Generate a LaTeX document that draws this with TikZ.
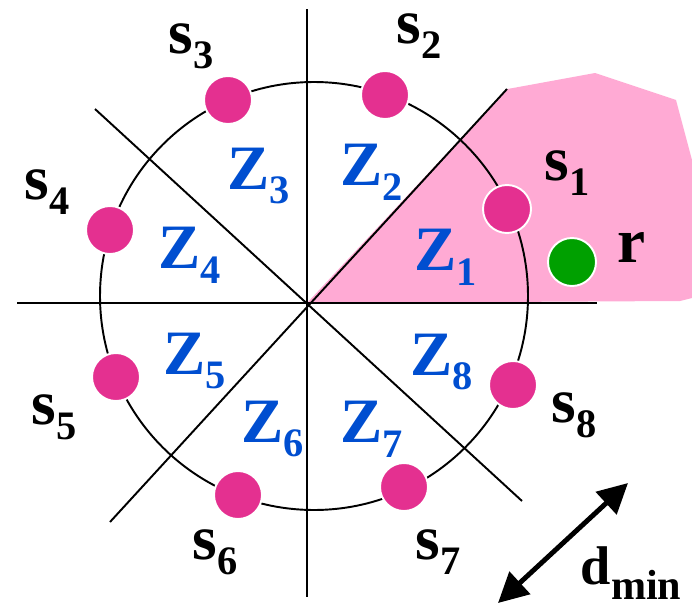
\documentclass[tikz,border=0pt]{standalone}
\usepackage{fontspec}
\setmainfont{Liberation Serif}
\usetikzlibrary{arrows.meta}

\definecolor{zonepink}{RGB}{255,170,212}
\definecolor{sigmag}{RGB}{228,48,144}
\definecolor{rxgreen}{RGB}{0,160,0}
\definecolor{zoneblue}{RGB}{0,78,208}

% symbol with a lowered index
\newcommand{\symb}[3]{#1\raisebox{-8.5pt}{\fontsize{#3}{#3}\selectfont #2}}

\begin{document}
\begin{tikzpicture}[
      x=0.02cm, y=-0.02cm,
      axis/.style={line width=1.1pt},
      sig/.style={circle, fill=sigmag, draw=white, line width=1.1pt,
        minimum size=0.96cm, inner sep=0pt},
      rx/.style={sig, fill=rxgreen},
      slbl/.style={inner sep=0pt, font=\fontsize{36}{36}\selectfont\bfseries},
      zlbl/.style={slbl, text=zoneblue},
      dist/.style={{Triangle[length=17pt,width=17pt]}-{Triangle[length=17pt,width=17pt]},
        line width=2.8pt}
    ]
    \useasboundingbox (0,0) rectangle (692,605);

    % --- decision region of s1 ---
    \coordinate (O) at (307,303);
    \fill[zonepink] (O) -- (507,89) -- (513,88) -- (595,73) -- (676,100)
      -- (692,160) -- (692,298) -- (680,301) -- cycle;

    % --- zone borders and circle ---
    \coordinate (hw) at (17,303);  \coordinate (he) at (597,303);
    \coordinate (vn) at (307,9);   \coordinate (vs) at (307,597);
    \coordinate (ne) at (507,89);  \coordinate (sw) at (110,522);
    \coordinate (nw) at (95,109);  \coordinate (se) at (522,501);
    \draw[axis] (hw) -- (he);
    \draw[axis] (vn) -- (vs);
    \draw[axis] (sw) -- (ne);
    \draw[axis] (nw) -- (se);
    \draw[axis] (314,296) circle[radius=214];

    % --- signal points ---
    \foreach \i/\x/\y in {1/507/209, 2/385/95, 3/228/100, 4/110/230,
                          5/116/377, 6/238/495, 7/404/487, 8/513/385} {
      \node[sig] (s\i) at (\x,\y) {};
    }
    \node[rx] (r) at (572,262) {};

    % --- point labels ---
    \foreach \i/\x/\y in {1/567/173, 2/419/36, 3/191/46, 4/47/192,
                          5/54/417, 6/215/552, 7/438/552, 8/574/415} {
      \node[slbl] (ls\i) at (\x,\y) {\symb{s}{\i}{23}};
    }
    \node[slbl] (lr) at (632,248) {r};

    % --- zone labels ---
    \foreach \i/\x/\y in {1/446/257, 2/372/172, 3/259/176, 4/190/255,
                          5/195/361, 6/273/429, 7/372/429, 8/442/362} {
      \node[zlbl] (z\i) at (\x,\y) {\symb{Z}{\i}{23}};
    }

    % --- minimum distance ---
    \coordinate (dA) at (498,603);
    \coordinate (dB) at (628,483);
    \draw[dist] (dA) -- (dB);
    \node[slbl, font=\fontsize{31}{31}\selectfont\bfseries] (ld) at (631,573) {\symb{d}{min}{24}};

  \end{tikzpicture}
\end{document}
